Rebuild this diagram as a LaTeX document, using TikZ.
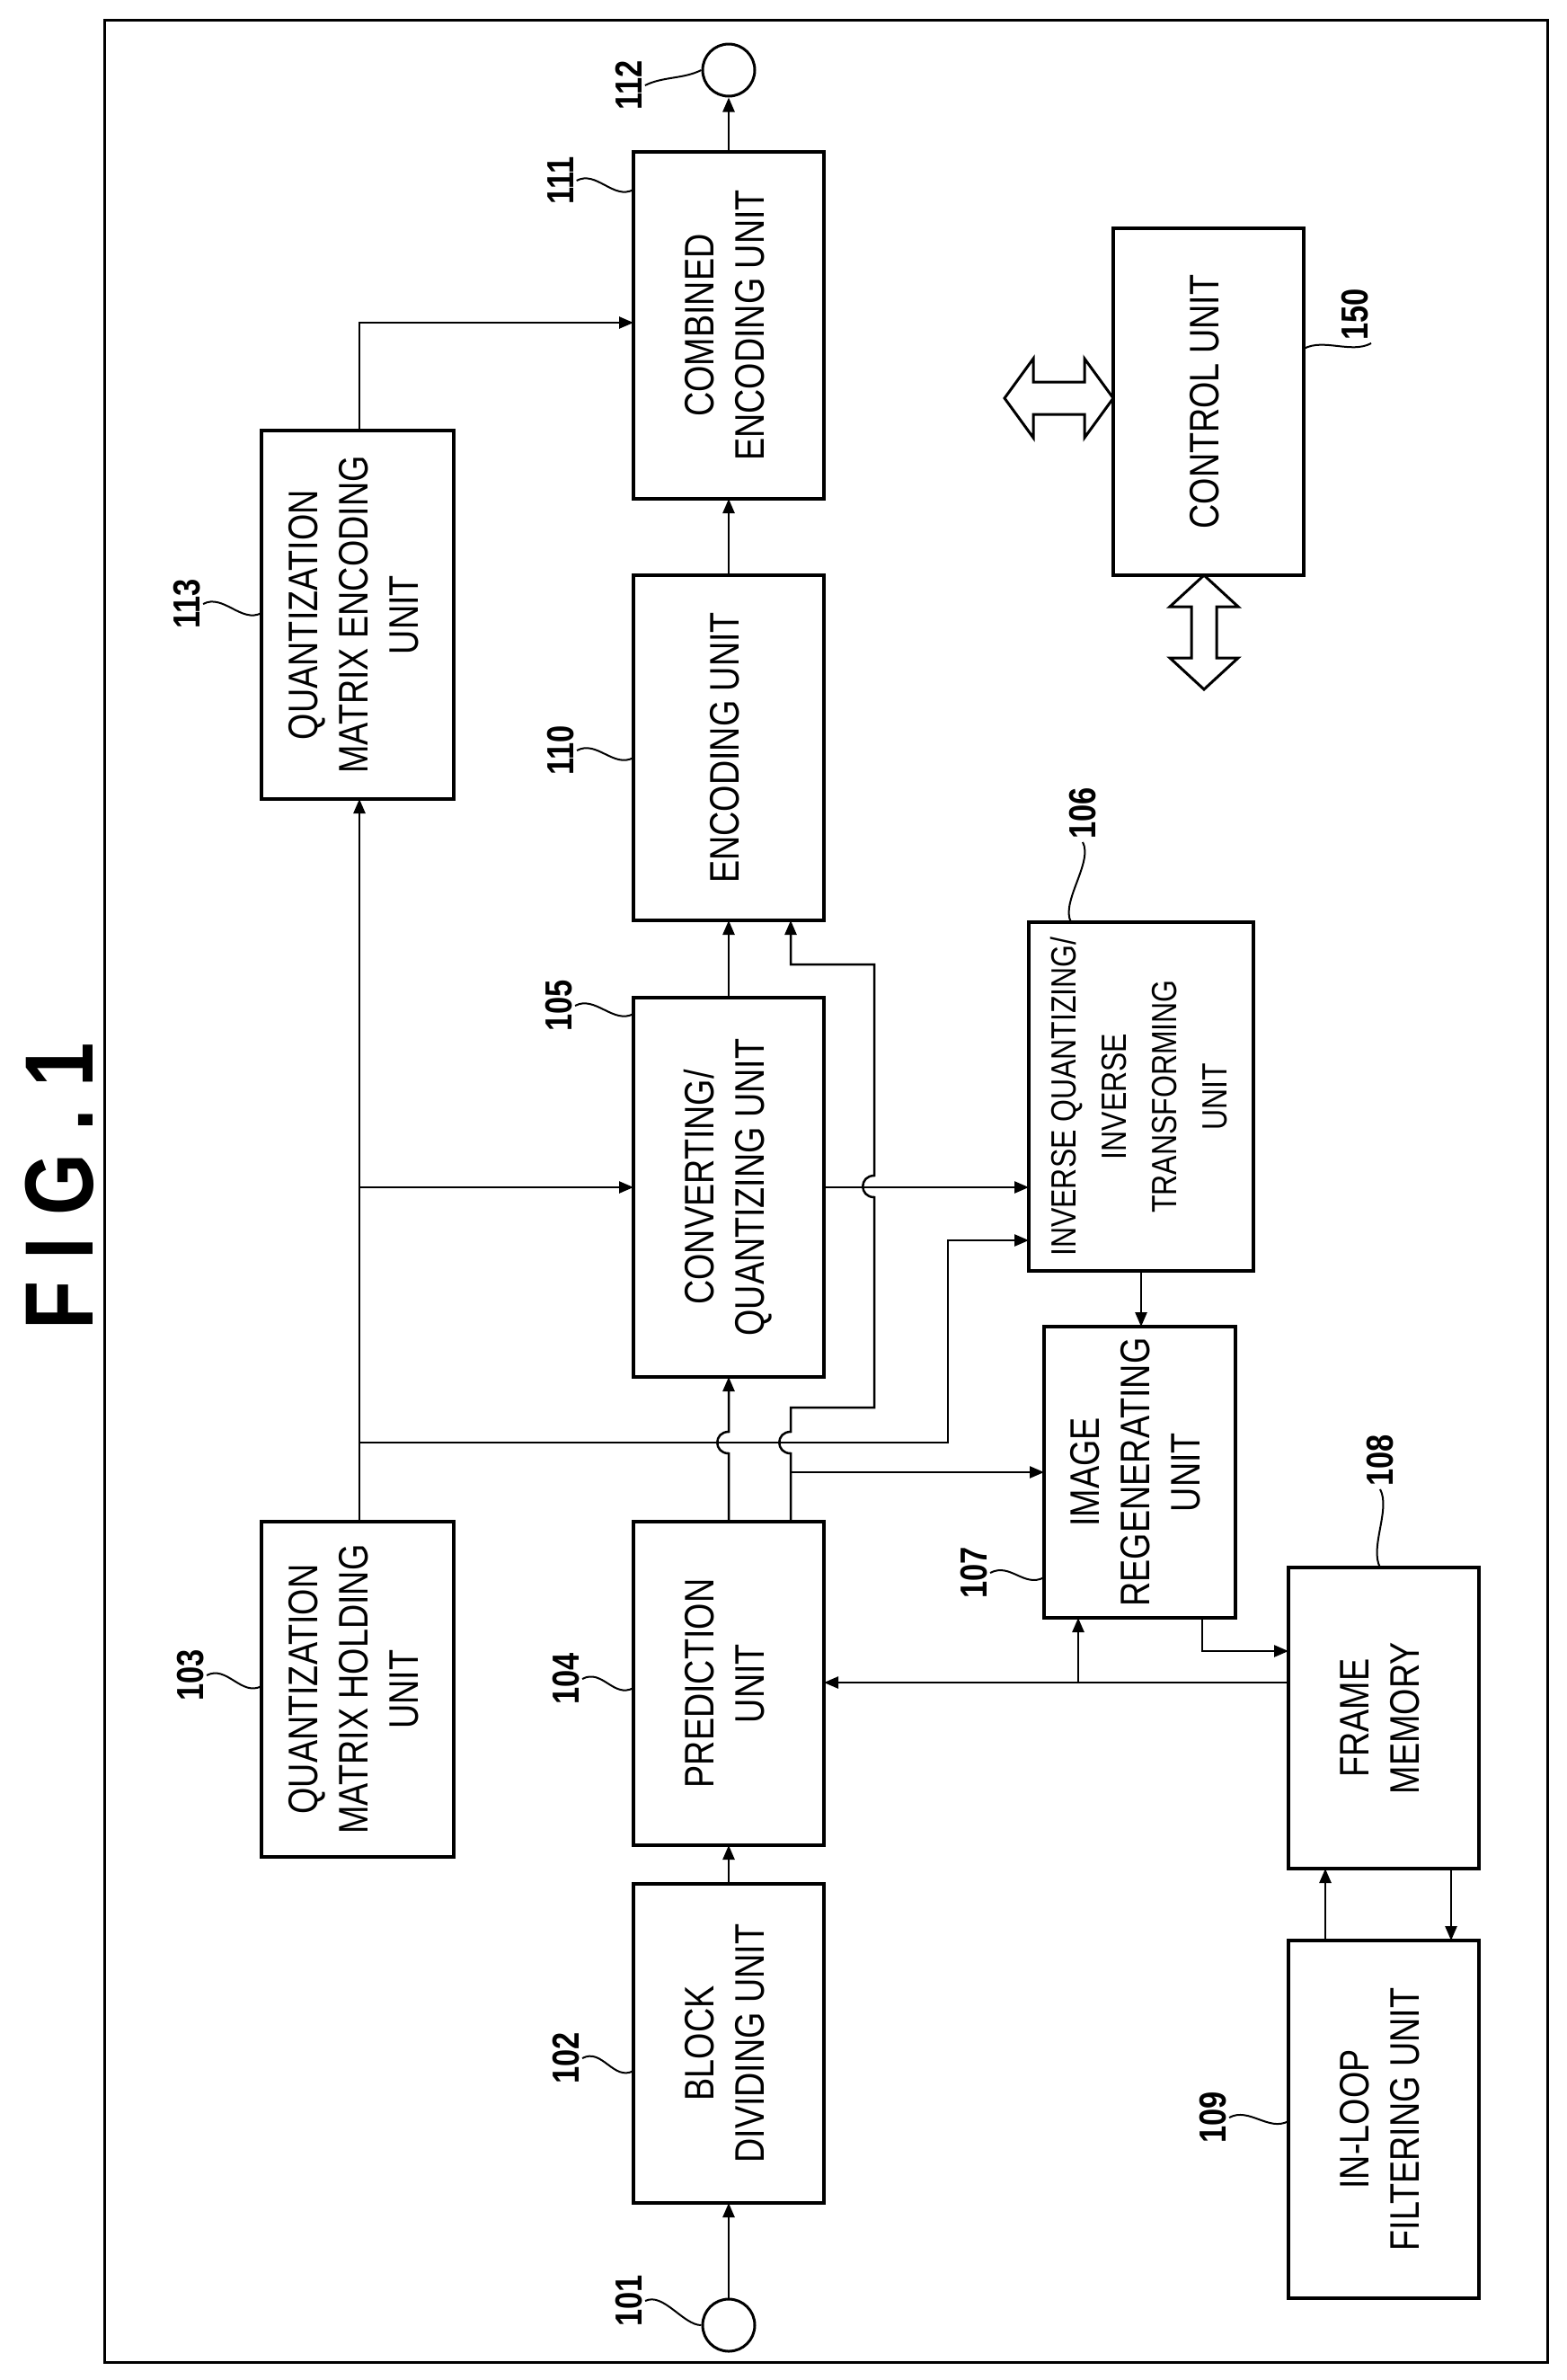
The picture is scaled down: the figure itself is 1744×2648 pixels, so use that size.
\documentclass[tikz,border=0pt]{standalone}
\usepackage{fontspec}
\setmainfont{Liberation Sans}[FakeStretch=0.82]
\usetikzlibrary{arrows.meta,calc}

\tikzset{
  box/.style={draw, line width=4pt, inner sep=0pt, outer sep=0pt, font=\fontsize{46}{56}\selectfont},
  conn/.style={line width=2.5pt, -{Triangle[length=16pt,width=13pt]}},
  num/.style={font=\fontsize{42}{44}\selectfont\bfseries, rotate=90, inner sep=3pt},
  lead/.style={line width=2pt},
  port/.style={draw, circle, line width=3pt, minimum size=58pt, inner sep=0pt},
  bigarrow/.style={draw, line width=3pt, fill=white},
}
\newcommand{\vtext}[1]{\rotatebox{90}{\begin{tabular}{@{}c@{}}#1\end{tabular}}}
\newcommand{\mkbox}[6]{% #1: name, #2: x1, #3: y1, #4: x2, #5: y2, #6: text
  \node[box, minimum width={(#4-#2)*1pt}, minimum height={(#5-#3)*1pt}] (#1) at ({(#2+#4)/2},{(#3+#5)/2}) {\vtext{#6}};
}
% vertical line hopping over a horizontal one at (#1,#2)
\newcommand{\hop}[2]{-- (#1,#2+12) .. controls (#1-17,#2+12) and (#1-17,#2-12) .. (#1,#2-12)}

\begin{document}
\begin{tikzpicture}[x=1pt,y=-1pt]
  \useasboundingbox (0,0) rectangle (1744,2648);
  \fill[white] (0,0) rectangle (1744,2648);

  % Frame and title
  \draw[line width=3pt] (116,22) rectangle (1722,2628);
  \node[font=\fontsize{108}{108}\selectfont\bfseries, rotate=90] (title) at (66,1320) {F I G . 1};

  % Blocks
  \mkbox{b102}{705}{2096}{917}{2451}{BLOCK\\DIVIDING UNIT}
  \mkbox{b103}{291}{1693}{505}{2066}{QUANTIZATION\\MATRIX HOLDING\\UNIT}
  \mkbox{b104}{705}{1693}{917}{2053}{PREDICTION\\UNIT}
  \mkbox{b105}{705}{1110}{917}{1532}{CONVERTING/\\QUANTIZING UNIT}
  \mkbox{b106}{1145}{1026}{1395}{1414}{\fontsize{39}{46}\selectfont INVERSE QUANTIZING/\\\fontsize{39}{46}\selectfont INVERSE\\\fontsize{39}{46}\selectfont TRANSFORMING\\\fontsize{39}{46}\selectfont UNIT}
  \mkbox{b107}{1162}{1476}{1375}{1800}{IMAGE\\REGENERATING\\UNIT}
  \mkbox{b108}{1434}{1744}{1646}{2079}{FRAME\\MEMORY}
  \mkbox{b109}{1434}{2159}{1646}{2557}{IN-LOOP\\FILTERING UNIT}
  \mkbox{b110}{705}{640}{917}{1024}{ENCODING UNIT}
  \mkbox{b111}{705}{169}{917}{555}{COMBINED\\ENCODING UNIT}
  \mkbox{b113}{291}{479}{505}{889}{QUANTIZATION\\MATRIX ENCODING\\UNIT}
  \mkbox{b150}{1239}{254}{1451}{640}{CONTROL UNIT}

  % Input and output
  \node[port] (p101) at (811,2587) {};
  \node[port] (p112) at (811,78) {};

  % Main path
  \draw[conn] (p101) -- (b102);
  \draw[conn] (b102) -- (b104);
  \draw[conn] (b104.north) \hop{811}{1605} -- (b105.south);
  \draw[conn] (b105) -- (b110);
  \draw[conn] (b110) -- (b111);
  \draw[conn] (b111) -- (p112);

  % Prediction information
  \draw[conn] (b104.north -| 880,0) \hop{880}{1605} -- (880,1566) -- (973,1566)
    \hop{973}{1320} -- (973,1073) -- (880,1073) -- (b110.south -| 880,0);
  \coordinate (q107) at (880,1638);
  \draw[conn] (q107) -- (b107);

  % Quantization matrix
  \draw[conn] (b103.north -| 400,0) -- (b113.south -| 400,0);
  \draw[conn] (b113.north -| 400,0) |- (b111.west |- 0,359);
  \coordinate (q105) at (400,1321);
  \draw[conn] (q105) -- (b105);
  \coordinate (q106) at (400,1605);
  \draw[conn] (q106) -- (1055,1605) -- (1055,1380) -- (b106.west |- 0,1380);
  \draw[conn] (b105.east) -- (b105.east -| b106.west);

  % Local decoding loop
  \draw[conn] (b106.south -| 1270,0) -- (b107.north -| 1270,0);
  \draw[conn] (b107.south -| 1338,0) |- (b108.west |- 0,1837);
  \draw[conn] (b108.west |- 0,1872) -- (b104.east |- 0,1872);
  \draw[conn] (1200,1872) -- (b107.south -| 1200,0);
  \draw[conn] (b109.north -| 1475,0) -- (b108.south -| 1475,0);
  \draw[conn] (b108.south -| 1615,0) -- (b109.north -| 1615,0);

  % Control unit buses
  \draw[bigarrow] (1118,443) -- (1150,399) -- (1150,425) -- (1207,425) -- (1207,399) -- (1239,443)
    -- (1207,487) -- (1207,461) -- (1150,461) -- (1150,487) -- cycle;
  \draw[bigarrow] (1340,640) -- (1378,675) -- (1354,675) -- (1354,732) -- (1378,732) -- (1340,767)
    -- (1302,732) -- (1326,732) -- (1326,675) -- (1302,675) -- cycle;

  % Reference numerals
  \node[num] (n101) at (700,2560) {101};
  \node[num] (n102) at (630,2290) {102};
  \node[num] (n103) at (212,1864) {103};
  \node[num] (n104) at (630,1868) {104};
  \node[num] (n105) at (622,1119) {105};
  \node[num] (n106) at (1205,905) {106};
  \node[num] (n107) at (1084,1750) {107};
  \node[num] (n108) at (1536,1625) {108};
  \node[num] (n109) at (1350,2356) {109};
  \node[num] (n110) at (624,835) {110};
  \node[num] (n111) at (624,201) {111};
  \node[num] (n112) at (700,95) {112};
  \node[num] (n113) at (208,672) {113};
  \node[num] (n150) at (1508,350) {150};

  \draw[lead] (n101.south) .. controls +(20,-10) and +(-20,0) .. (p101.west);
  \draw[lead] (n102.south) .. controls +(22,-12) and +(-22,12) .. (b102.west |- 0,2304);
  \draw[lead] (n103.south) .. controls +(22,-12) and +(-22,12) .. (b103.west |- 0,1876);
  \draw[lead] (n104.south) .. controls +(22,-12) and +(-22,12) .. (b104.west |- 0,1878);
  \draw[lead] (n105.south) .. controls +(22,-12) and +(-22,12) .. (b105.west |- 0,1128);
  \draw[lead] (n106.west) .. controls +(12,22) and +(-12,-22) .. (b106.north -| 1192,0);
  \draw[lead] (n107.south) .. controls +(22,-12) and +(-22,12) .. (b107.west |- 0,1755);
  \draw[lead] (n108.west) .. controls +(12,22) and +(-12,-22) .. (b108.north -| 1536,0);
  \draw[lead] (n109.south) .. controls +(22,-12) and +(-22,12) .. (b109.west |- 0,2360);
  \draw[lead] (n110.south) .. controls +(22,-12) and +(-22,12) .. (b110.west |- 0,843);
  \draw[lead] (n111.south) .. controls +(22,-12) and +(-22,12) .. (b111.west |- 0,211);
  \draw[lead] (n112.south) .. controls +(20,-10) and +(-20,10) .. (p112.west);
  \draw[lead] (n113.south) .. controls +(22,-12) and +(-22,12) .. (b113.west |- 0,682);
  \draw[lead] (b150.east |- 0,388) .. controls +(22,-12) and +(-22,12) .. (n150.south west);
\end{tikzpicture}
\end{document}
